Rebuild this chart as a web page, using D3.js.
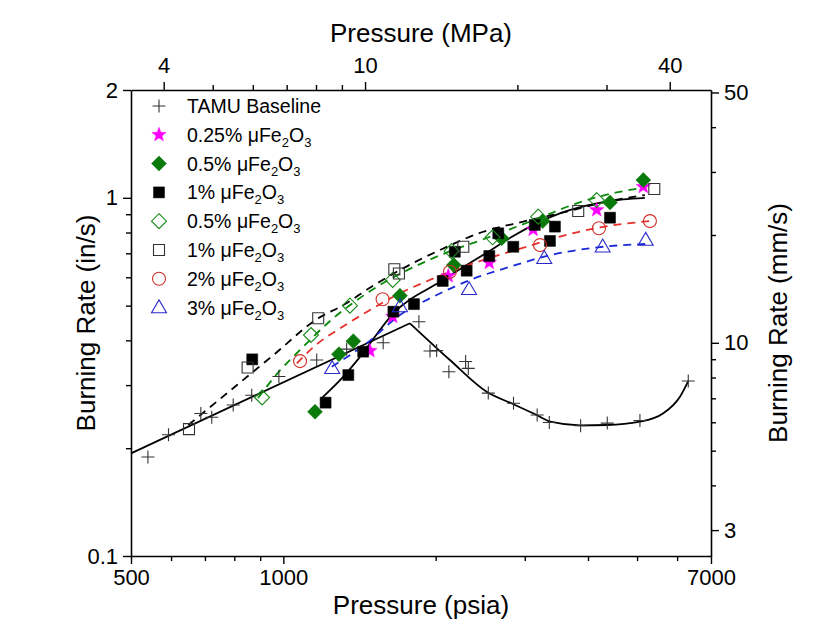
<!DOCTYPE html>
<html><head><meta charset="utf-8">
<script src="https://cdn.jsdelivr.net/npm/d3@7"></script>
<style>
body{margin:0;background:#fff;}
svg{font-family:"Liberation Sans",Arial,sans-serif;}
</style></head>
<body><svg id="c" width="835" height="640"></svg>
<script>
// ---------- data (pressure psia, burning rate in/s) ----------
const baselineP = [540, 593, 687, 722, 796, 866, 980, 1164, 1334, 1575, 1853, 1949, 2009, 2124, 2292, 2320, 2541, 2850, 3174, 3354, 3868, 4366, 5066, 6312];
const baselineR = [0.189, 0.218, 0.250, 0.244, 0.264, 0.281, 0.317, 0.3525, 0.378, 0.394, 0.451, 0.3735, 0.3745, 0.327, 0.349, 0.334, 0.285, 0.267, 0.2475, 0.236, 0.231, 0.235, 0.239, 0.308];

const star025P = [1483, 1645, 2118, 2553, 3117, 4161, 5144];
const star025R = [0.374, 0.466, 0.605, 0.659, 0.815, 0.925, 1.074];

const fDiamondP = [1155, 1288, 1375, 1700, 2172, 2700, 3255, 4421, 5144];
const fDiamondR = [0.2527, 0.366, 0.398, 0.533, 0.649, 0.771, 0.861, 0.971, 1.121];

const fSquareP = [868, 1212, 1344, 1438, 1650, 1812, 2065, 2182, 2303, 2553, 2659, 2847, 3140, 3364, 3441, 4421];
const fSquareR = [0.354, 0.268, 0.320, 0.372, 0.481, 0.505, 0.586, 0.707, 0.626, 0.688, 0.796, 0.730, 0.840, 0.758, 0.831, 0.880];

const oDiamondP = [908, 1134, 1354, 1645, 2150, 2591, 3189, 4161];
const oDiamondR = [0.277, 0.414, 0.500, 0.590, 0.710, 0.776, 0.886, 0.986];

const oSquareP = [651, 850, 1172, 1657, 1692, 2268, 3826, 5408];
const oSquareR = [0.226, 0.336, 0.461, 0.632, 0.615, 0.730, 0.919, 1.058];

const circleP = [1079, 1571, 2134, 3215, 4204, 5302];
const circleR = [0.350, 0.521, 0.622, 0.738, 0.822, 0.861];

const triP = [1249, 1700, 2328, 3278, 4276, 5201];
const triR = [0.334, 0.497, 0.555, 0.678, 0.730, 0.762];

// ---------- fitted curves ----------
const baseFitLeftP = [500, 1779];
const baseFitLeftR = [0.1935, 0.4464];
const baseFitRightP = [1779, 2134, 2522, 2843, 3166, 3370, 3856, 4355, 5066, 5635, 6078, 6312];
const baseFitRightR = [0.4464, 0.3525, 0.2875, 0.2657, 0.2475, 0.2371, 0.2317, 0.2321, 0.2371, 0.2503, 0.2785, 0.308];

const solidFitP = [1190, 1314, 1418, 1650, 2040, 2303, 2516, 2847, 3215, 3520, 4161, 4694, 5181];
const solidFitR = [0.2756, 0.3166, 0.360, 0.476, 0.583, 0.649, 0.701, 0.782, 0.858, 0.905, 0.965, 0.990, 1.000];

const blackDashP = [649, 810, 954, 1172, 1314, 1494, 1700, 2040, 2484, 2979, 3628, 4421, 5181];
const blackDashR = [0.2321, 0.3002, 0.363, 0.461, 0.502, 0.5646, 0.6287, 0.715, 0.804, 0.858, 0.915, 0.980, 1.018];

const greenDashP = [891, 980, 1079, 1255, 1461, 2009, 2516, 3215, 3800, 4557, 5140];
const greenDashR = [0.276, 0.327, 0.376, 0.461, 0.541, 0.685, 0.771, 0.880, 0.965, 1.035, 1.066];

const redDashP = [1063, 1164, 1294, 1461, 1700, 1920, 2516, 3025, 3520, 4222, 5302];
const redDashR = [0.345, 0.390, 0.432, 0.480, 0.541, 0.585, 0.675, 0.730, 0.779, 0.827, 0.861];

const blueDashP = [1246, 1461, 1700, 1979, 2338, 2805, 3370, 4036, 4694, 5302];
const blueDashR = [0.3377, 0.3925, 0.4708, 0.5297, 0.5895, 0.642, 0.692, 0.723, 0.738, 0.744];

// ---------- axis ticks ----------
const xMajor = [500, 1000, 7000];
const xMinor = [600, 700, 800, 900, 2000, 3000, 4000, 5000, 6000];
const yMajor = [0.1, 1, 2];
const yMinor = [0.2, 0.3, 0.4, 0.5, 0.6, 0.7, 0.8, 0.9];
const topMajor = [4, 10, 40];
const topMinor = [5, 6, 7, 8, 9, 20, 30];
const rightMajor = [3, 10, 50];
const rightMinor = [4, 5, 6, 7, 8, 9, 20, 30, 40];

const legendLabels = ["TAMU Baseline", "0.25% ", "0.5% ", "1% ", "0.5% ", "1% ", "2% ", "3% "];

// ---------- layout ----------
const L = 131, R = 711, T = 90, B = 556;
const PSI_PER_MPA = 145.038, MM_PER_IN = 25.4;
const svg = d3.select("#c");
const x = d3.scaleLog().domain([500, 7000]).range([L, R]);
const y = d3.scaleLog().domain([0.1, 2]).range([B, T]);
const xTop = d3.scaleLog().domain([500 / PSI_PER_MPA, 7000 / PSI_PER_MPA]).range([L, R]);
const yRight = d3.scaleLog().domain([0.1 * MM_PER_IN, 2 * MM_PER_IN]).range([B, T]);

const TICKFS = 22, TITLEFS = 26;

function styleAxis(g) {
  g.selectAll("path.domain").attr("stroke", "#000").attr("stroke-width", 1.6);
  g.selectAll(".tick line").attr("stroke", "#000").attr("stroke-width", 1.4);
  g.selectAll(".tick text").attr("font-size", TICKFS).attr("fill", "#000").attr("font-family", "Liberation Sans, Arial, sans-serif");
}
function addAxis(axisFn, scale, major, minor, transform, fmt, pad) {
  const gMin = svg.append("g").attr("transform", transform)
    .call(axisFn(scale).tickValues(minor).tickSize(5).tickFormat(""));
  gMin.select("path.domain").remove();
  styleAxis(gMin);
  const gMaj = svg.append("g").attr("transform", transform)
    .call(axisFn(scale).tickValues(major).tickSize(8).tickSizeOuter(0).tickPadding(pad).tickFormat(fmt));
  styleAxis(gMaj);
  return gMaj;
}
addAxis(d3.axisBottom, x, xMajor, xMinor, `translate(0,${B})`, d => d3.format("d")(d), 5);
addAxis(d3.axisLeft, y, yMajor, yMinor, `translate(${L},0)`, d => String(d), 5);
addAxis(d3.axisTop, xTop, topMajor, topMinor, `translate(0,${T})`, d => String(d), 9);
addAxis(d3.axisRight, yRight, rightMajor, rightMinor, `translate(${R},0)`, d => String(d), 5);

// titles
svg.append("text").attr("x", (L + R) / 2).attr("y", 614).attr("text-anchor", "middle")
  .attr("font-size", TITLEFS).text("Pressure (psia)");
svg.append("text").attr("x", (L + R) / 2).attr("y", 42).attr("text-anchor", "middle")
  .attr("font-size", TITLEFS).text("Pressure (MPa)");
svg.append("text").attr("transform", `translate(95,${(T + B) / 2}) rotate(-90)`).attr("text-anchor", "middle")
  .attr("font-size", TITLEFS).text("Burning Rate (in/s)");
svg.append("text").attr("transform", `translate(787,${(T + B) / 2}) rotate(-90)`).attr("text-anchor", "middle")
  .attr("font-size", TITLEFS).text("Burning Rate (mm/s)");

// ---------- symbols ----------
const crossSym = { draw(ctx, s) { const r = Math.sqrt(s) / 2; ctx.moveTo(-r, 0); ctx.lineTo(r, 0); ctx.moveTo(0, -r); ctx.lineTo(0, r); } };
const diamondSym = { draw(ctx, s) { const r = Math.sqrt(s) / 2; ctx.moveTo(0, -r); ctx.lineTo(r, 0); ctx.lineTo(0, r); ctx.lineTo(-r, 0); ctx.closePath(); } };
const squareSym = { draw(ctx, s) { const r = Math.sqrt(s) / 2; ctx.rect(-r, -r, 2 * r, 2 * r); } };
const circleSym = { draw(ctx, s) { const r = Math.sqrt(s) / 2; ctx.moveTo(r, 0); ctx.arc(0, 0, r, 0, 2 * Math.PI); } };
const triSym = { draw(ctx, s) { const w = Math.sqrt(s); const h = w * 0.86; ctx.moveTo(0, -h * 0.6); ctx.lineTo(w / 2, h * 0.4); ctx.lineTo(-w / 2, h * 0.4); ctx.closePath(); } };
const starSym = { draw(ctx, s) { const ro = Math.sqrt(s) / 2, ri = ro * 0.42; for (let i = 0; i < 10; i++) { const a = -Math.PI / 2 + i * Math.PI / 5; const rr = i % 2 ? ri : ro; const px = rr * Math.cos(a), py = rr * Math.sin(a); if (i) ctx.lineTo(px, py); else ctx.moveTo(px, py); } ctx.closePath(); } };

const series = [
  { P: baselineP, R: baselineR, type: crossSym, size: 13 * 13, fill: "none", stroke: "#333", sw: 1.1 },
  { P: star025P, R: star025R, type: starSym, size: 15 * 15, fill: "#ff00ff", stroke: "#ff00ff", sw: 0.5 },
  { P: fDiamondP, R: fDiamondR, type: diamondSym, size: 15 * 15, fill: "#0a7a0a", stroke: "#0a7a0a", sw: 0.5 },
  { P: fSquareP, R: fSquareR, type: squareSym, size: 11 * 11, fill: "#000", stroke: "#000", sw: 0.5 },
  { P: oDiamondP, R: oDiamondR, type: diamondSym, size: 15 * 15, fill: "none", stroke: "#1a8a1a", sw: 1.1 },
  { P: oSquareP, R: oSquareR, type: squareSym, size: 11 * 11, fill: "none", stroke: "#333", sw: 1.1 },
  { P: circleP, R: circleR, type: circleSym, size: 13 * 13, fill: "none", stroke: "#d0302a", sw: 1.1 },
  { P: triP, R: triR, type: triSym, size: 15 * 15, fill: "none", stroke: "#2a2acc", sw: 1.1 }
];

// ---------- fit lines ----------
const line = d3.line().x(d => x(d[0])).y(d => y(d[1])).curve(d3.curveMonotoneX);
const zipPR = (P, Rr) => P.map((p, i) => [p, Rr[i]]);
const fits = [
  { P: baseFitLeftP, R: baseFitLeftR, color: "#000", dash: null },
  { P: baseFitRightP, R: baseFitRightR, color: "#000", dash: null },
  { P: solidFitP, R: solidFitR, color: "#000", dash: null },
  { P: blackDashP, R: blackDashR, color: "#000", dash: "8,6" },
  { P: greenDashP, R: greenDashR, color: "#0a8a0a", dash: "8,6" },
  { P: redDashP, R: redDashR, color: "#e8302a", dash: "8,6" },
  { P: blueDashP, R: blueDashR, color: "#1a2ad8", dash: "8,6" }
];
const gPlot = svg.append("g");
fits.forEach(f => {
  gPlot.append("path").attr("d", line(zipPR(f.P, f.R))).attr("fill", "none")
    .attr("stroke", f.color).attr("stroke-width", 1.8).attr("stroke-dasharray", f.dash);
});

series.forEach(s => {
  gPlot.append("g").selectAll("path").data(zipPR(s.P, s.R)).join("path")
    .attr("transform", d => `translate(${x(d[0])},${y(d[1])})`)
    .attr("d", d3.symbol(s.type, s.size)())
    .attr("fill", s.fill).attr("stroke", s.stroke).attr("stroke-width", s.sw);
});

// ---------- legend ----------
const lg = svg.append("g");
const LX = 159, LY0 = 106, LDY = 28.8;
series.forEach((s, i) => {
  const cy = LY0 + i * LDY;
  lg.append("path").attr("transform", `translate(${LX},${cy})`)
    .attr("d", d3.symbol(s.type, s.size)())
    .attr("fill", s.fill).attr("stroke", s.stroke).attr("stroke-width", s.sw);
  const t = lg.append("text").attr("x", 187).attr("y", cy + 7).attr("font-size", 19.5).attr("fill", "#000");
  t.append("tspan").text(legendLabels[i]);
  if (i > 0) {
    t.append("tspan").text("\u03bcFe");
    t.append("tspan").attr("font-size", 13).attr("dy", 5).text("2");
    t.append("tspan").attr("dy", -5).text("O");
    t.append("tspan").attr("font-size", 13).attr("dy", 5).text("3");
  }
});
</script></body></html>
